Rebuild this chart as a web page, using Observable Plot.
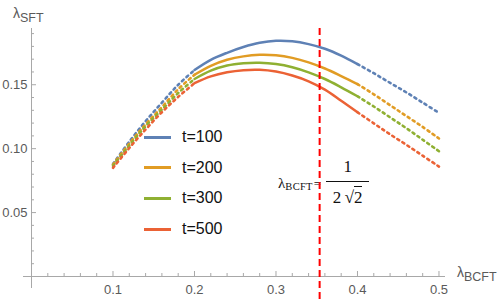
<!DOCTYPE html>
<html><head><meta charset="utf-8">
<script src="https://cdn.jsdelivr.net/npm/d3@7"></script>
<script src="https://cdn.jsdelivr.net/npm/@observablehq/plot@0.6"></script>
<style>
body{margin:0;background:#fff;}
#wrap{position:relative;width:500px;height:300px;overflow:hidden;font-family:"Liberation Sans",Arial,sans-serif;background:#fff;}
#wrap svg{position:absolute;left:0;top:0;z-index:1;}
.lbl{position:absolute;color:#5a5a5a;white-space:nowrap;line-height:1;z-index:2;}
.lbl .lam{font-size:14px;}
.lbl .sub{font-size:12.5px;position:relative;top:4px;}
#legend{position:absolute;z-index:2;}
.lrow{position:absolute;left:0;display:flex;align-items:center;height:20px;white-space:nowrap;}
.lrow .sw{width:27px;height:0;border-top:3px solid;margin-right:11px;}
.lrow .tx{font-size:16px;color:#111;}
.ann{position:absolute;z-index:0;font-family:"Liberation Serif","DejaVu Serif",serif;color:#111;line-height:1;white-space:nowrap;}
</style></head><body><div id="wrap"></div>
<script>
const xs = [0.10,0.12,0.14,0.16,0.18,0.20,0.22,0.24,0.26,0.28,0.30,0.32,0.34,0.36,0.38,0.40,0.42,0.44,0.46,0.48,0.50];
const t100 = [0.0880,0.1055,0.1215,0.1360,0.1500,0.1615,0.1695,0.1750,0.1795,0.1828,0.1844,0.1840,0.1818,0.1782,0.1728,0.1662,0.1590,0.1515,0.1440,0.1360,0.1280];
const t200 = [0.0875,0.1040,0.1190,0.1325,0.1465,0.1578,0.1648,0.1695,0.1722,0.1734,0.1730,0.1710,0.1675,0.1627,0.1568,0.1505,0.1425,0.1340,0.1255,0.1170,0.1080];
const t300 = [0.0865,0.1025,0.1175,0.1305,0.1435,0.1545,0.1610,0.1650,0.1668,0.1672,0.1662,0.1637,0.1597,0.1545,0.1480,0.1410,0.1330,0.1245,0.1160,0.1070,0.0980];
const t500 = [0.0850,0.1005,0.1150,0.1285,0.1405,0.1512,0.1565,0.1597,0.1614,0.1617,0.1603,0.1572,0.1527,0.1462,0.1375,0.1285,0.1198,0.1112,0.1030,0.0945,0.0860];
const seriesNames = ["t=100","t=200","t=300","t=500"];
const seriesValues = [t100,t200,t300,t500];
const colors = ["#5E81B5","#E19C24","#8FB032","#EB6235"];
const xTicks = [0.1,0.2,0.3,0.4,0.5];
const xMinor = [0.02,0.04,0.06,0.08,0.12,0.14,0.16,0.18,0.22,0.24,0.26,0.28,0.32,0.34,0.36,0.38,0.42,0.44,0.46,0.48];
const yTicks = [0.05,0.10,0.15];
const yMinor = [0.01,0.02,0.03,0.04,0.06,0.07,0.08,0.09,0.11,0.12,0.13,0.14,0.16,0.17,0.18,0.19];
const solidFrom = 0.2, solidTo = 0.4;
const xCrit = 1/(2*Math.SQRT2);

const rows = seriesNames.flatMap((t,k)=>xs.map((x,i)=>({x, y: seriesValues[k][i], t})));
const axisCol = "#a8a8a8";
const eps = 1e-9;

const plot = Plot.plot({
  width: 500, height: 300,
  marginLeft: 31, marginRight: 55, marginTop: 28, marginBottom: 24,
  style: {background: "transparent", color: "#5a5a5a", fontFamily: "Liberation Sans, Arial, sans-serif", fontSize: "13px"},
  x: {domain: [0, 0.508], axis: null},
  y: {domain: [0, 0.194], axis: null},
  color: {domain: seriesNames, range: colors},
  marks: [
    Plot.ruleY([0], {insetLeft: -8, stroke: axisCol, strokeWidth: 1}),
    Plot.ruleX([0], {insetBottom: -12, stroke: axisCol, strokeWidth: 1}),
    Plot.ruleX(xTicks, {x: d=>d, y1: 0, y2: 0, insetTop: -5, stroke: axisCol}),
    Plot.ruleX(xMinor, {x: d=>d, y1: 0, y2: 0, insetTop: -3, stroke: axisCol}),
    Plot.ruleY(yTicks, {y: d=>d, x1: 0, x2: 0, insetRight: -5, stroke: axisCol}),
    Plot.ruleY(yMinor, {y: d=>d, x1: 0, x2: 0, insetRight: -3, stroke: axisCol}),
    Plot.axisX({ticks: xTicks, tickSize: 0, tickPadding: 8, tickFormat: d3.format(".1f"), fontSize: 13, label: null}),
    Plot.axisY({ticks: yTicks, tickSize: 0, tickPadding: 4, tickFormat: d3.format(".2f"), fontSize: 13, label: null}),
    Plot.line(rows, {filter: d=>d.x <= solidFrom+eps, x: "x", y: "y", z: "t", stroke: "t", strokeWidth: 2.6, strokeDasharray: "2.2,3.8", curve: "catmull-rom"}),
    Plot.line(rows, {filter: d=>d.x >= solidFrom-eps && d.x <= solidTo+eps, x: "x", y: "y", z: "t", stroke: "t", strokeWidth: 2.5, curve: "catmull-rom"}),
    Plot.line(rows, {filter: d=>d.x >= solidTo-eps, x: "x", y: "y", z: "t", stroke: "t", strokeWidth: 2.6, strokeDasharray: "2.2,3.8", curve: "catmull-rom"}),
    Plot.ruleX([xCrit], {insetBottom: -30, stroke: "#ff0000", strokeWidth: 2, strokeDasharray: "7,4"})
  ]
});

const wrap = document.getElementById("wrap");
wrap.appendChild(plot);
const sx = plot.scale("x"), sy = plot.scale("y");
const cx = sx.apply(xCrit);

// axis labels
const yl = document.createElement("div");
yl.className = "lbl";
yl.style.left = "13px"; yl.style.top = "5px";
yl.innerHTML = '<span class="lam">λ</span><span class="sub">SFT</span>';
wrap.appendChild(yl);
const xl = document.createElement("div");
xl.className = "lbl";
xl.style.left = (sx.apply(0.508) + 12) + "px"; xl.style.top = (sy.apply(0) - 12) + "px";
xl.innerHTML = '<span class="lam">λ</span><span class="sub">BCFT</span>';
wrap.appendChild(xl);

// annotation
const annL = document.createElement("div");
annL.className = "ann";
annL.style.right = (500 - cx - 2) + "px"; annL.style.top = "175px";
annL.innerHTML = '<span style="font-size:15px">λ</span><span style="font-size:10.5px;position:relative;top:2px;letter-spacing:0.3px">BCFT</span><span style="font-size:13px;margin-left:1px">=</span>';
wrap.appendChild(annL);
const annR = document.createElement("div");
annR.className = "ann";
annR.style.left = (cx + 7) + "px"; annR.style.top = "158px";
annR.innerHTML = '<div style="display:inline-flex;flex-direction:column;align-items:center;font-size:17px;">' +
  '<span>1</span>' +
  '<div style="align-self:stretch;border-top:1px solid #111;margin-top:6px;width:43px;"></div>' +
  '<span style="margin-top:7px;">2&#8201;&#8730;<span style="border-top:1px solid #111;padding-top:1px;">2</span></span>' +
  '</div>';
wrap.appendChild(annR);

// legend
const lg = document.createElement("div");
lg.id = "legend";
lg.style.left = "144px"; lg.style.top = "0px";
seriesNames.forEach((t,k)=>{
  const r = document.createElement("div");
  r.className = "lrow";
  r.style.top = (137 + k*30.7 - 10) + "px";
  r.innerHTML = `<span class="sw" style="border-color:${colors[k]}"></span><span class="tx">${t}</span>`;
  lg.appendChild(r);
});
wrap.appendChild(lg);
</script></body></html>
